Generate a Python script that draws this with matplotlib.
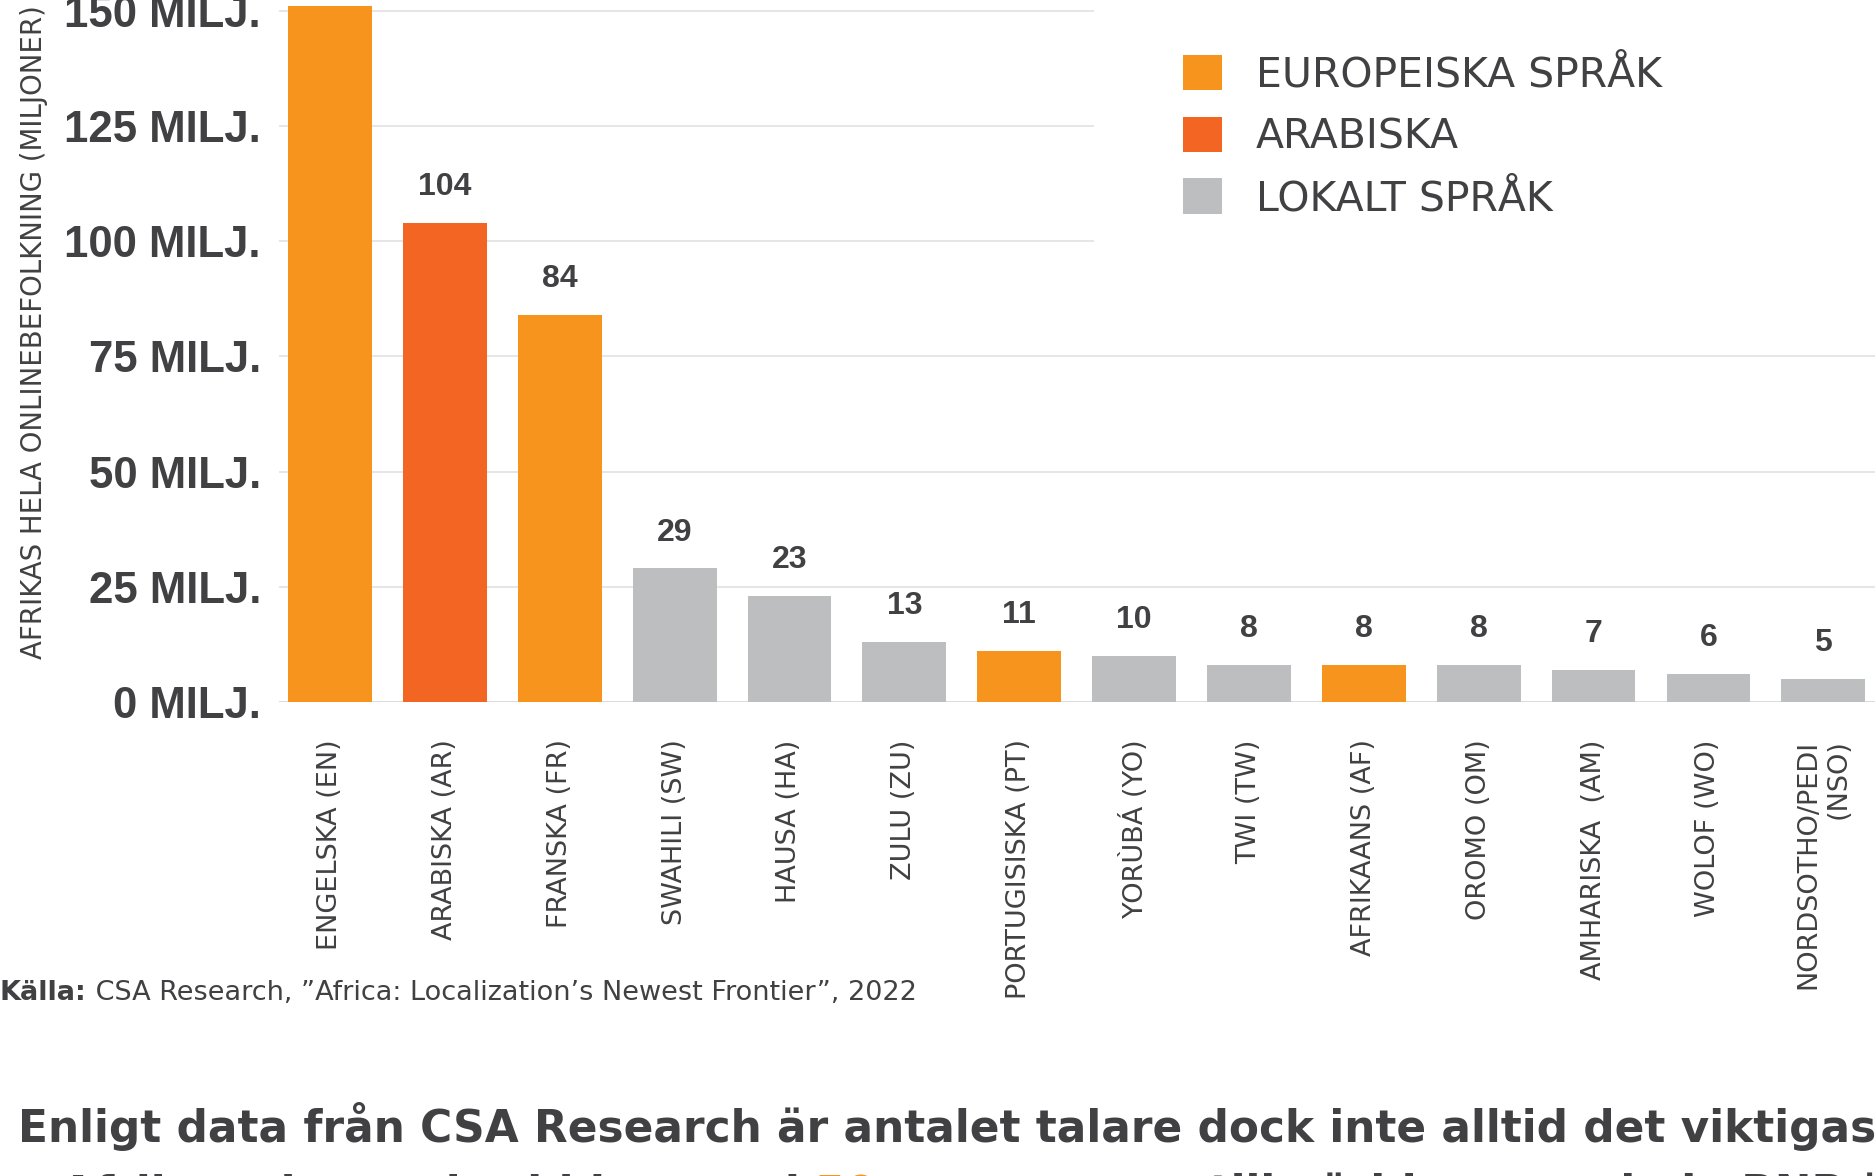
import matplotlib

matplotlib.use("Agg")
import matplotlib.pyplot as plt  # noqa: E402
from matplotlib.patches import Patch, Rectangle  # noqa: E402

# data
languages = [
    "ENGELSKA (EN)", "ARABISKA (AR)", "FRANSKA (FR)", "SWAHILI (SW)",
    "HAUSA (HA)", "ZULU (ZU)", "PORTUGISISKA (PT)", "YORÙBÁ (YO)",
    "TWI (TW)", "AFRIKAANS (AF)", "OROMO (OM)", "AMHARISKA  (AM)",
    "WOLOF (WO)", "NORDSOTHO/PEDI\n(NSO)",
]
speakers = [151, 104, 84, 29, 23, 13, 11, 10, 8, 8, 8, 7, 6, 5]
groups = ["eu", "ar", "eu", "lok", "lok", "lok", "eu", "lok",
          "lok", "eu", "lok", "lok", "lok", "lok"]

group_keys = ["eu", "ar", "lok"]
group_labels = ["EUROPEISKA SPRÅK", "ARABISKA", "LOKALT SPRÅK"]
group_colours = ["#F7941E", "#F26522", "#BCBEC0"]

ytick_values = [0, 25, 50, 75, 100, 125, 150]
ylabel = "AFRIKAS HELA ONLINEBEFOLKNING (MILJONER)"

source_bold = "Källa:"
source_rest = " CSA Research, \u201dAfrica: Localization\u2019s Newest Frontier\u201d, 2022"
body_line1 = "Enligt data från CSA Research är antalet talare dock inte alltid det viktigaste"
body_line2 = ["måttet. Afrikas ekonomier bidrar med ", "50 procent", " mer till världens samlade BNP än"]

TEXT = "#414042"
BOLD = "Liberation Sans"
REG = "DejaVu Sans"

colour_of = dict(zip(group_keys, group_colours))

fig = plt.figure(figsize=(18.75, 11.76), dpi=100)
ax = fig.add_axes([0.1488, 0.4031, 0.8512, 0.6267])

x = list(range(len(languages)))
bars = ax.bar(x, speakers, width=0.73, color=[colour_of[g] for g in groups], zorder=2)
ax.bar_label(bars, labels=[str(v) for v in speakers], padding=15,
             fontsize=23, fontweight="bold", family=BOLD, color=TEXT)

ax.set_xlim(-0.444, 13.45)
ax.set_ylim(0, 160)

ax.set_yticks(ytick_values)
ax.set_yticklabels([f"{v} MILJ." for v in ytick_values],
                   fontsize=31.5, fontweight="bold", family=BOLD, color=TEXT)
ax.set_xticks(x)
ax.set_xticklabels(languages, rotation=90, fontsize=19.5, color=TEXT,
                   family=REG, va="top", ha="center",
                   multialignment="right")
ax.tick_params(axis="y", length=0, pad=13)
ax.tick_params(axis="x", length=0, pad=27)

ax.grid(axis="y", color="#E6E6E6", linewidth=1.4, zorder=0)
ax.set_axisbelow(True)
for side in ax.spines:
    ax.spines[side].set_visible(False)
ax.axhline(0, color="#DCDCDC", linewidth=2.2, zorder=1)

ax.set_ylabel(ylabel, fontsize=19.8, color=TEXT, family=REG)
ax.yaxis.set_label_coords(-0.1447, 0.502)

# white backdrop behind the legend hides the upper gridlines
fig.add_artist(Rectangle((1094 / 1875, 1 - 280 / 1176), 1, 1,
                         transform=fig.transFigure, facecolor="white",
                         edgecolor="none", zorder=1))
handles = [Patch(facecolor=c, edgecolor="none") for c in group_colours]
leg = fig.legend(handles, group_labels, loc="upper left",
                 bbox_to_anchor=(1183 / 1875, 1 - 55 / 1176),
                 frameon=False, borderpad=0, borderaxespad=0,
                 handlelength=0.95, handleheight=0.95, handletextpad=0.83,
                 labelspacing=0.51, prop={"family": REG, "size": 29.5})
for t in leg.get_texts():
    t.set_color(TEXT)

src = fig.text(0.0, 1 - 1000 / 1176, source_bold, fontsize=19.5, fontweight="bold",
               family=REG, color=TEXT, va="baseline")
ax.annotate(source_rest, xy=(1, 0), xycoords=src, va="bottom", ha="left",
            fontsize=19.5, family=REG, color=TEXT, annotation_clip=False)

body_size = 31.6
fig.text(18 / 1875, 1 - 1142 / 1176, body_line1, fontsize=body_size, fontweight="bold",
         family=REG, color=TEXT, va="baseline")
part1 = fig.text(815 / 1875, 1 - 1208 / 1176, body_line2[0], fontsize=body_size,
                 fontweight="bold", family=REG, color=TEXT, va="baseline", ha="right")
part2 = ax.annotate(body_line2[1], xy=(1, 0), xycoords=part1, va="bottom",
                    ha="left", fontsize=body_size, fontweight="bold", family=REG,
                    color=group_colours[0], annotation_clip=False)
ax.annotate(body_line2[2], xy=(1, 0), xycoords=part2, va="bottom", ha="left",
            fontsize=body_size, fontweight="bold", family=REG, color=TEXT,
            annotation_clip=False)

fig.savefig("out.png", dpi=100)
